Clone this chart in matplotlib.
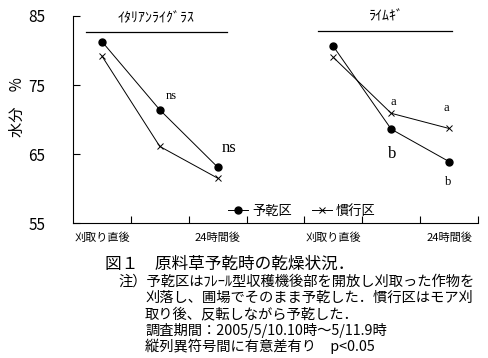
import matplotlib
matplotlib.use("Agg")
import matplotlib.pyplot as plt
from matplotlib.lines import Line2D

plt.rcParams["font.family"] = ["Noto Sans CJK JP", "DejaVu Sans"]

# data
x_italian = [0.5, 1.5, 2.5]
x_rye = [4.5, 5.5, 6.5]
italian_yokan = [81.3, 71.4, 63.1]
italian_kanko = [79.2, 66.1, 61.5]
rye_yokan = [80.6, 68.6, 63.9]
rye_kanko = [79.0, 70.9, 68.7]

tick_pos = [0.5, 2.5, 4.5, 6.5]
tick_labels = ["刈取り直後", "24時間後", "刈取り直後", "24時間後"]
group_names = ["ｲﾀﾘｱﾝﾗｲｸﾞﾗｽ", "ﾗｲﾑｷﾞ"]
series_names = ["予乾区", "慣行区"]

notes = [
    "注）予乾区はﾌﾚｰﾙ型収穫機後部を開放し刈取った作物を",
    "刈落し、圃場でそのまま予乾した．慣行区はモア刈",
    "取り後、反転しながら予乾した．",
    "調査期間：2005/5/10.10時～5/11.9時",
    "縦列異符号間に有意差有り　p<0.05",
]

W, H = 488, 358
fig = plt.figure(figsize=(W / 100, H / 100), dpi=100)
ax = fig.add_axes([73 / W, 1 - 223 / H, 405 / W, 207 / H])

dot = dict(color="black", marker="o", markersize=5, linewidth=0.7)
crs = dict(color="black", marker="x", markersize=5, markeredgewidth=0.7, linewidth=0.7)
ax.plot(x_italian, italian_yokan, **dot)
ax.plot(x_italian, italian_kanko, **crs)
ax.plot(x_rye, rye_yokan, **dot)
ax.plot(x_rye, rye_kanko, **crs)

ax.set_xlim(0, 7)
ax.set_ylim(55, 85)
ax.set_yticks([55, 65, 75, 85])
ax.set_xticks(range(1, 8))
ax.set_xticklabels([])
ax.set_xticks(tick_pos, minor=True)
ax.set_xticklabels(tick_labels, minor=True, fontsize=8)
ax.tick_params(axis="x", which="major", direction="in", length=5, width=0.8)
ax.tick_params(axis="x", which="minor", length=0, pad=7)
ax.tick_params(axis="y", direction="in", length=5, width=0.8, pad=20, labelsize=11)
for s in ["top", "right"]:
    ax.spines[s].set_visible(False)
for s in ["left", "bottom"]:
    ax.spines[s].set_linewidth(0.8)

# group headers with underline
ax.text(1.43, 84.7, group_names[0], ha="center", va="center", fontsize=10)
ax.plot([0.22, 2.66], [82.7, 82.7], color="black", linewidth=0.9, clip_on=False)
ax.text(5.41, 85.0, group_names[1], ha="center", va="center", fontsize=10)
ax.plot([4.23, 6.55], [82.8, 82.8], color="black", linewidth=0.9, clip_on=False)

serif = ["Liberation Serif", "DejaVu Serif"]
ax.text(1.69, 73.4, "ns", fontsize=9, family=serif, ha="center", va="center")
ax.text(2.69, 65.9, "ns", fontsize=12, family=serif, ha="center", va="center")
ax.text(5.53, 72.6, "a", fontsize=9, family=serif, ha="center", va="center")
ax.text(6.46, 71.6, "a", fontsize=9, family=serif, ha="center", va="center")
ax.text(5.51, 65.0, "b", fontsize=12, family=serif, ha="center", va="center")
ax.text(6.48, 60.9, "b", fontsize=9, family=serif, ha="center", va="center")

handles = [
    Line2D([], [], **dot),
    Line2D([], [], **crs),
]
ax.legend(handles, series_names, ncol=2, frameon=False, fontsize=9.5,
          loc="center", bbox_to_anchor=(0.565, 0.055), handlelength=1.5,
          handletextpad=0.3, columnspacing=1.5, borderpad=0)

fig.text(17 / W, 1 - 107 / H, "水分　%", rotation=90, ha="center", va="center",
         fontsize=11)

fig.text(105 / W, 1 - 264 / H, "図１　原料草予乾時の乾燥状況．", ha="left",
         va="center", fontsize=12)
note_y = [282, 298, 314, 330, 346]
for i, (line, y) in enumerate(zip(notes, note_y)):
    x0 = 118 if i == 0 else 145
    fig.text(x0 / W, 1 - y / H, line, ha="left", va="center", fontsize=10.3)

fig.savefig("out.png", dpi=100)
